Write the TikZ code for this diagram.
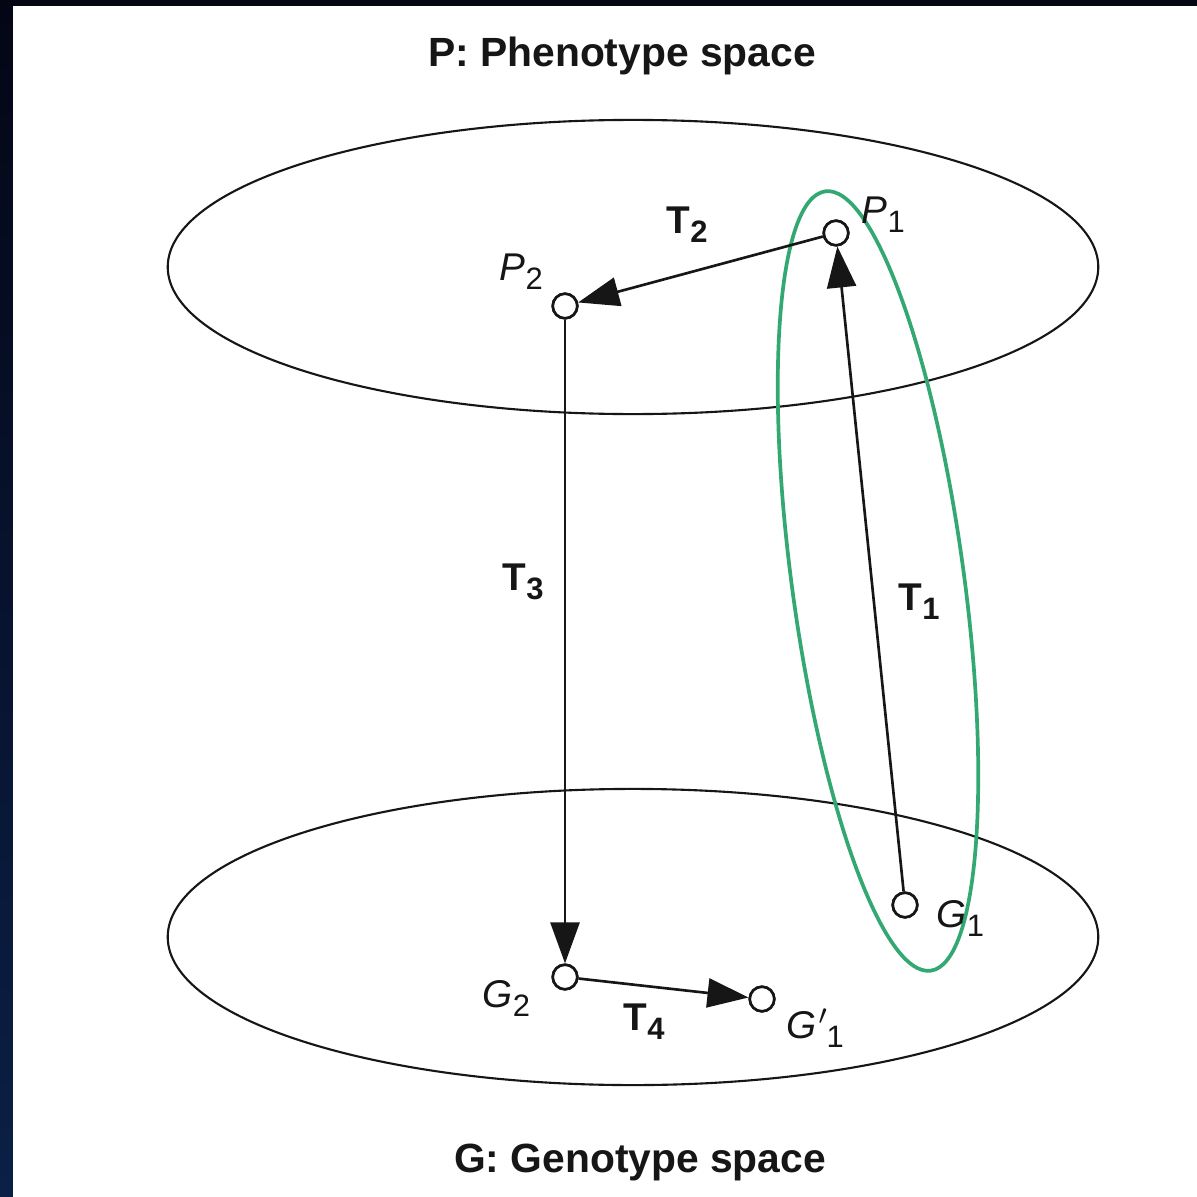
\documentclass[tikz,border=0pt]{standalone}
\usepackage{fontspec}
\setmainfont{Liberation Sans}
\usepackage{tikz}
\definecolor{gpgreen}{RGB}{52,168,114}
\definecolor{gpink}{RGB}{22,22,22}
\definecolor{gpnavytop}{RGB}{4,6,22}
\definecolor{gpnavybot}{RGB}{10,32,70}
\usetikzlibrary{arrows.meta,positioning,calc}
\newcommand{\lsub}[1]{\raisebox{-2.8pt}{\fontsize{8.8}{10}\selectfont\upshape #1}}

\begin{document}
\begin{tikzpicture}[x=0.01cm,y=-0.01cm,
  gpspace/.style={draw=gpink,line width=0.6pt},
  gppoint/.style={circle,draw=gpink,fill=white,line width=0.75pt,minimum size=0.245cm,inner sep=0pt},
  gpmap/.style={draw=gpink,line width=0.75pt,-{Triangle[length=0.41cm,width=0.29cm]}},
  gptitle/.style={font=\fontsize{11.6}{14}\selectfont\bfseries,text=gpink,anchor=base,inner sep=0pt},
  gplabel/.style={font=\fontsize{11}{13}\selectfont\itshape,text=gpink,anchor=base west,inner sep=0pt},
  gpmaplabel/.style={font=\fontsize{11}{13}\selectfont\bfseries,text=gpink,anchor=base west,inner sep=0pt}
]
  % frame
  \shade[top color=gpnavytop,bottom color=gpnavybot] (0,0) rectangle (1197,1197);
  \fill[white] (13,6) rectangle (1197,1197);
  \useasboundingbox (0,0) rectangle (1197,1197);

  % titles
  \node[gptitle] (ptitle) at (622,67) {P: Phenotype space};
  \node[gptitle] (gtitle) at (640,1172) {G: Genotype space};

  % the two spaces
  \draw[gpspace] (633,267) ellipse [x radius=4.65cm, y radius=1.47cm];
  \draw[gpspace] (633,937) ellipse [x radius=4.65cm, y radius=1.48cm];

  % green loop
  \draw[gpgreen,line width=1.05pt,rotate around={7.7:(878,581)}]
    (878,581) ellipse [x radius=0.86cm, y radius=3.93cm];

  % points
  \node[gppoint] (p1) at (836,233) {};
  \node[gppoint] (p2) at (565,306) {};
  \node[gppoint] (g1) at (905,905) {};
  \node[gppoint] (g2) at (565,977) {};
  \node[gppoint] (g1b) at (762,999) {};

  % maps
  \draw[gpmap] (g1) -- (p1);
  \draw[gpmap] (p1) -- (p2);
  \draw[gpmap] (p2) -- (g2);
  \draw[gpmap] (g2) -- (g1b);
  \node[gppoint] at (p1) {};
  \node[gppoint] at (p2) {};
  \node[gppoint] at (g1) {};
  \node[gppoint] at (g2) {};
  \node[gppoint] at (g1b) {};

  % point labels
  \node[gplabel] (p1lbl) at (861,223) {P\lsub{1}};
  \node[gplabel] (p2lbl) at (499,280) {P\lsub{2}};
  \node[gplabel] (g1lbl) at (936,927) {G\lsub{1}};
  \node[gplabel] (g2lbl) at (482,1007) {G\lsub{2}};
  \node[gplabel] (g1blbl) at (786,1038) {G\kern0.5pt$'$\kern-0.5pt\lsub{1}};

  % map labels
  \node[gpmaplabel] (t1) at (898,610) {T\lsub{1}};
  \node[gpmaplabel] (t2) at (666,233) {T\lsub{2}};
  \node[gpmaplabel] (t3) at (502,590) {T\lsub{3}};
  \node[gpmaplabel] (t4) at (623,1030) {T\lsub{4}};
\end{tikzpicture}
\end{document}
